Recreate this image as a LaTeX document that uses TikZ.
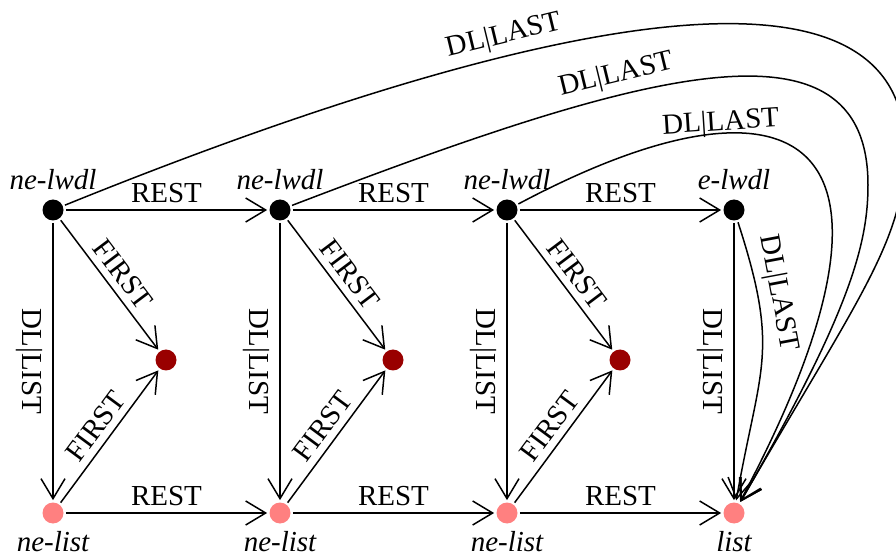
\documentclass[tikz,border=0pt]{standalone}
\usepackage{fontspec}
\setmainfont{Liberation Serif}
\usetikzlibrary{arrows.meta}
\definecolor{itemred}{RGB}{153,0,0}
\definecolor{listpink}{RGB}{255,128,128}

\begin{document}
\begin{tikzpicture}[x=0.5pt, y=-0.5pt,
  every node/.style={font=\fontsize{14.5pt}{17pt}\selectfont},
  dot/.style={circle, inner sep=0pt, minimum size=10.5pt, outer sep=1.2pt},
  lwdl/.style={dot, fill=black},
  item/.style={dot, fill=itemred},
  lst/.style={dot, fill=listpink},
  tag/.style={font=\fontsize{14.5pt}{17pt}\selectfont\itshape},
  arr/.style={draw, line width=0.75pt, -{Straight Barb[length=10pt, width=12pt]}},
  vlbl/.style={xshift=-12pt, rotate=-90},
]
\useasboundingbox (0,0) rectangle (896,556);

% top row: lists with a last element
\node[lwdl, label={[tag]above:ne-lwdl}] (t1) at (53,210) {};
\node[lwdl, label={[tag]above:ne-lwdl}] (t2) at (280,210) {};
\node[lwdl, label={[tag]above:ne-lwdl}] (t3) at (507,210) {};
\node[lwdl, label={[tag]above:e-lwdl}]  (t4) at (734,210) {};

% element values
\node[item] (m1) at (166,360) {};
\node[item] (m2) at (393,360) {};
\node[item] (m3) at (620,360) {};

% bottom row: plain lists
\node[lst, label={[tag, label distance=-0.6pt]below:ne-list}] (b1) at (53,513) {};
\node[lst, label={[tag, label distance=-0.6pt]below:ne-list}] (b2) at (280,513) {};
\node[lst, label={[tag, label distance=-0.6pt]below:ne-list}] (b3) at (507,513) {};
\node[lst, label={[tag, label distance=-0.6pt]below:list}]    (b4) at (734,513) {};

% turning points of the two widest DL|LAST arcs
\coordinate (r1) at (905,150);
\coordinate (r2) at (868,185);

% REST along both rows
\draw[arr] (t1) -- node[above] {REST} (t2);
\draw[arr] (t2) -- node[above] {REST} (t3);
\draw[arr] (t3) -- node[above] {REST} (t4);
\draw[arr] (b1) -- node[above] {REST} (b2);
\draw[arr] (b2) -- node[above] {REST} (b3);
\draw[arr] (b3) -- node[above] {REST} (b4);

% FIRST into the element values
\draw[arr] (t1) -- node[above, sloped] {FIRST} (m1);
\draw[arr] (t2) -- node[above, sloped] {FIRST} (m2);
\draw[arr] (t3) -- node[above, sloped] {FIRST} (m3);
\draw[arr] (b1) -- node[above, sloped] {FIRST} (m1);
\draw[arr] (b2) -- node[above, sloped] {FIRST} (m2);
\draw[arr] (b3) -- node[above, sloped] {FIRST} (m3);

% DL|LIST down each column
\draw[arr] (t1) -- node[vlbl] {DL|LIST} (b1);
\draw[arr] (t2) -- node[vlbl] {DL|LIST} (b2);
\draw[arr] (t3) -- node[vlbl] {DL|LIST} (b3);
\draw[arr] (t4) -- node[vlbl] {DL|LIST} (b4);

% DL|LAST from every top node to the final list
\draw[arr] (t1) .. controls (470,41) and (905,-78) .. (r1)
  node[pos=0.375, above, sloped, inner sep=3pt] {DL|LAST}
  .. controls (905,240) and (859,296.5) .. (b4);
\draw[arr] (t2) .. controls (634.9,74) and (868,5) .. (r2)
  node[pos=0.37, above, sloped, inner sep=3pt] {DL|LAST}
  .. controls (868,245) and (849,313.8) .. (b4);
\draw[arr] (t3) .. controls (798.4,55.2) and (936,133.3) .. (b4)
  node[pos=0.29, above, sloped, inner sep=1pt, yshift=-3pt] {DL|LAST};
\draw[arr] (t4) .. controls (780.4,352.7) and (760,365.3) .. (b4)
  node[pos=0.23, above, sloped] {DL|LAST};
\end{tikzpicture}
\end{document}
